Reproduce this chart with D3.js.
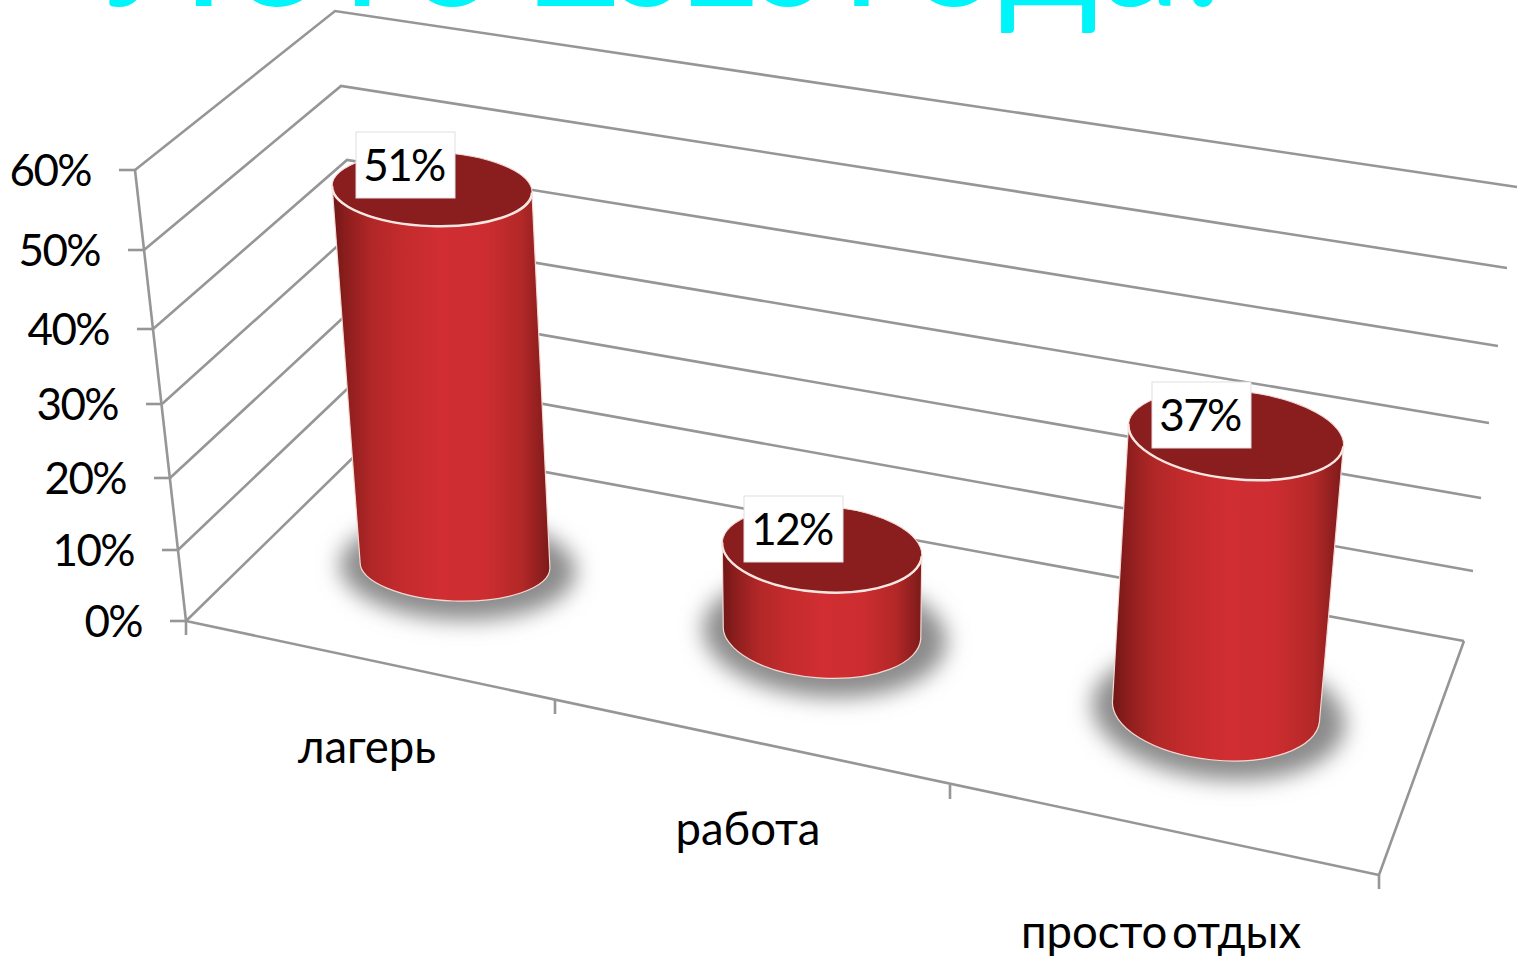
<!DOCTYPE html>
<html><head><meta charset="utf-8">
<script src="https://cdnjs.cloudflare.com/ajax/libs/d3/7.8.5/d3.min.js"></script>
<style>html,body{margin:0;padding:0;background:#fff;overflow:hidden}svg{display:block}</style>
</head><body><svg id="c" width="1522" height="957"></svg>
<script>
const titleWords = ["Лето", "2010", "года."];
const categories = ["лагерь", "работа", "просто отдых"];
const values = [51, 12, 37];
const yTicks = [0, 10, 20, 30, 40, 50, 60];
const yTickLabels = ["0%", "10%", "20%", "30%", "40%", "50%", "60%"];

const svg = d3.select("#c");
const FONT = "Lato, 'Open Sans', 'Noto Sans', sans-serif";
const GRID = "#969696";

// projected chart box: one scale per edge of the 3D frame
const frontX = d3.scaleLinear().domain(yTicks).range([186,178,170,162,153,144,135]);
const frontY = d3.scaleLinear().domain(yTicks).range([621,550,478,404,329,250,170]);
const backX  = d3.scaleLinear().domain(yTicks).range([371,365,359,353,347,341,335]);
const backY  = d3.scaleLinear().domain(yTicks).range([440,372,303,232,160,86,11]);
const rightX = d3.scaleLinear().domain(yTicks).range([1464,1473,1481,1489,1498,1507,1517]);
const rightY = d3.scaleLinear().domain(yTicks).range([641,571,498,423,346,268,187]);
const floorX = d3.scaleLinear().domain([0,1,2,3]).range([186,555,950,1379]);
const floorY = d3.scaleLinear().domain([0,1,2,3]).range([621,700,785,875]);

const byCat = r => d3.scaleOrdinal().domain(categories).range(r);
const baseCx = byCat([455,822,1216]), baseCy = byCat([565,632,711]);
const baseRx = byCat([95,99,104]),    baseRy = byCat([36,46,49]);
const topRx  = byCat([100,100,108]),  topRy  = byCat([37,43,44]);
const tilt   = byCat([2,4,6]);
const leanPx = byCat([-0.45,0,0.54]), risePx = byCat([7.37,6.9,7.46]);
const boxX = byCat([356,744,1152]),   boxY = byCat([132,496,382]);
const catX = byCat([367,748,1161]),   catY = byCat([763,845,948]);

const defs = svg.append("defs");
const grad = defs.append("linearGradient").attr("id","body").attr("x1",0).attr("x2",1).attr("y1",0).attr("y2",0);
[[0,"#6f1716"],[0.06,"#8b1d1d"],[0.18,"#b12727"],[0.32,"#c42b2d"],[0.5,"#d02e32"],[0.7,"#cd2d30"],[0.87,"#b32828"],[1,"#7c1a1a"]]
  .forEach(([o,c]) => grad.append("stop").attr("offset",o).attr("stop-color",c));
defs.append("filter").attr("id","blur").attr("x","-30%").attr("y","-40%").attr("width","160%").attr("height","180%")
  .append("feGaussianBlur").attr("stdDeviation",11);

// title words, cut by the page top as in the source slide
const titleSpan = [[110,505],[530,812],[843,1225]];
const title = svg.append("g").attr("font-family",FONT).attr("font-size",160).attr("fill","#00f5fb");
titleWords.forEach((w,i) => {
  const t = title.append("text").attr("x",titleSpan[i][0]).attr("y",6).text(w);
  const natural = t.node().getComputedTextLength();
  t.attr("letter-spacing",(titleSpan[i][1]-titleSpan[i][0]-natural)/w.length);
});

// gridlines
const g = svg.append("g").attr("fill","none").attr("stroke",GRID).attr("stroke-width",2.6);
yTicks.forEach(v => {
  g.append("polyline").attr("points",[[frontX(v),frontY(v)],[backX(v),backY(v)],[rightX(v),rightY(v)]].join(" "));
  g.append("line").attr("x1",frontX(v)-16).attr("x2",frontX(v)).attr("y1",frontY(v)).attr("y2",frontY(v));
});
g.append("line").attr("x1",frontX(0)).attr("y1",frontY(0)).attr("x2",frontX(60)).attr("y2",frontY(60));
g.append("polyline").attr("points",[[floorX(0),floorY(0)],[floorX(3),floorY(3)],[rightX(0),rightY(0)]].join(" "));
[0,1,2,3].forEach(i => g.append("line").attr("x1",floorX(i)).attr("x2",floorX(i)).attr("y1",floorY(i)).attr("y2",floorY(i)+14));

// y labels
svg.append("g").selectAll("text").data(yTicks).join("text")
  .attr("x",v=>frontX(v)-44).attr("y",v=>frontY(v)+1).attr("dy","0.35em").attr("text-anchor","end")
  .attr("font-family",FONT).attr("font-size",44).attr("letter-spacing",-1.6).attr("fill","#000").text((v,i)=>yTickLabels[i]);

// cylinders
const rad = d => d*Math.PI/180;
function ends(cx,cy,rx,t){const c=Math.cos(rad(t))*rx,s=Math.sin(rad(t))*rx;return [[cx-c,cy-s],[cx+c,cy+s]];}
const rows = categories.map((c,i)=>({c,v:values[i]}));
const cyl = svg.append("g").selectAll("g").data(rows).join("g");
cyl.each(function(d){
  const s=d3.select(this), c=d.c;
  const bx=baseCx(c), by=baseCy(c), brx=baseRx(c), bry=baseRy(c), t=tilt(c);
  const tx=bx+leanPx(c)*d.v, ty=by-risePx(c)*d.v, trx=topRx(c), tr=topRy(c);
  s.append("ellipse").attr("cx",bx+3).attr("cy",by+3).attr("rx",brx+23).attr("ry",bry+16)
    .attr("transform",`rotate(${t} ${bx} ${by})`).attr("fill","#8a8a8a").attr("filter","url(#blur)");
  const [tl,tr2]=ends(tx,ty,trx,t), [bl,br]=ends(bx,by,brx,t);
  s.append("path").attr("d",`M${tl}L${bl}A${brx},${bry} ${t} 0 0 ${br}L${tr2}A${trx},${tr} ${t} 0 1 ${tl}Z`)
    .attr("fill","url(#body)").attr("stroke","#f3d9d4").attr("stroke-width",1.2);
  s.append("ellipse").attr("cx",tx).attr("cy",ty).attr("rx",trx).attr("ry",tr)
    .attr("transform",`rotate(${t} ${tx} ${ty})`).attr("fill","#8a1e1e").attr("stroke","#f3d9d4").attr("stroke-width",1);
  s.append("path").attr("d",`M${tl}A${trx},${tr} ${t} 0 0 ${tr2}`).attr("fill","none").attr("stroke","#f8e6e2").attr("stroke-width",2.4);
});

// value labels
const lab = svg.append("g").selectAll("g").data(rows).join("g");
lab.append("rect").attr("x",d=>boxX(d.c)).attr("y",d=>boxY(d.c)).attr("width",99).attr("height",66)
  .attr("fill","#fff").attr("stroke","#e0e0e0").attr("stroke-width",1);
lab.append("text").attr("x",d=>boxX(d.c)+48).attr("y",d=>boxY(d.c)+34).attr("dy","0.35em").attr("text-anchor","middle")
  .attr("font-family",FONT).attr("font-size",44).attr("letter-spacing",-1.6).attr("fill","#000").text(d=>d.v+"%");

// category labels
svg.append("g").selectAll("text").data(categories).join("text")
  .attr("x",catX).attr("y",catY).attr("text-anchor","middle")
  .attr("font-family",FONT).attr("font-size",45.5).attr("word-spacing",-7).attr("fill","#000").text(d=>d);
</script></body></html>
